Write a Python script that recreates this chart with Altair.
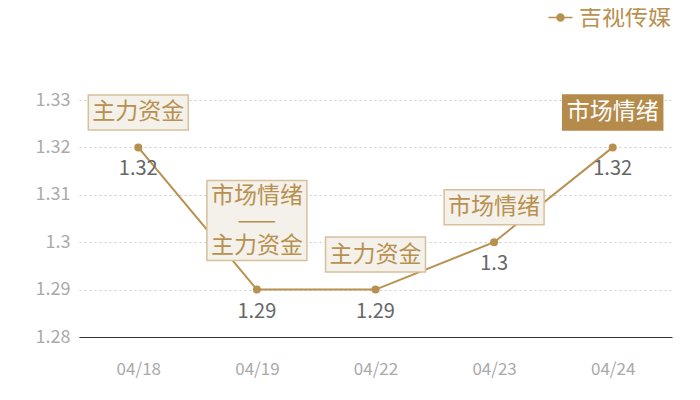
import altair as alt
import pandas as pd

dates = ["04/18", "04/19", "04/22", "04/23", "04/24"]
values = [1.32, 1.29, 1.29, 1.30, 1.32]
value_labels = ["1.32", "1.29", "1.29", "1.3", "1.32"]
notes = [["主力资金"], ["市场情绪", "——", "主力资金"], ["主力资金"], ["市场情绪"], ["市场情绪"]]
highlight = [False, False, False, False, True]
series = "吉视传媒"
y_ticks = [1.28, 1.29, 1.30, 1.31, 1.32, 1.33]

GOLD = "#b8904f"
FONT = "Noto Sans CJK SC"

df = pd.DataFrame({
    "date": dates,
    "value": values,
    "label": value_labels,
    "note": notes,
    "lines": [len(n) for n in notes],
    "hl": highlight,
    "series": [series] * len(dates),
})

x = alt.X("date:N", sort=dates, scale=alt.Scale(type="point", padding=0.5),
          axis=alt.Axis(title=None, labelAngle=0, domain=True, domainColor="#333333", domainWidth=1,
                        ticks=False, grid=False,
                        labelColor="#aaaaaa", labelFont=FONT, labelFontSize=17, labelPadding=24))
y = alt.Y("value:Q", scale=alt.Scale(domain=[1.28, 1.33], nice=False, zero=False),
          axis=alt.Axis(title=None, values=y_ticks, format=".2~f", domain=False, ticks=False,
                        gridDash=[2, 3], gridColor="#cccccc", labelColor="#aaaaaa",
                        labelFont=FONT, labelFontSize=18, labelPadding=9))

base = alt.Chart(df)

line = base.mark_line(color=GOLD, strokeWidth=2).encode(x=x, y=y)

points = base.mark_point(filled=True, size=64, opacity=1).encode(
    x=x, y=y,
    color=alt.Color("series:N", scale=alt.Scale(domain=[series], range=[GOLD]),
                    legend=alt.Legend(title=None, orient="none", legendX=470, legendY=-94,
                                      symbolType="M-1.2,0H-0.35M0.35,0H1.2M-0.35,0A0.35,0.35 0 1,0 0.35,0A0.35,0.35 0 1,0 -0.35,0Z",
                                      symbolSize=400, symbolStrokeWidth=1.5, symbolStrokeColor=GOLD,
                                      labelFont=FONT, labelFontSize=23, labelColor=GOLD,
                                      labelOffset=7)))

labels = base.mark_text(dy=22, font=FONT, fontSize=20, color="#666666").encode(
    x=x, y=y, text="label:N")

single = base.transform_filter("datum.lines == 1")
double = base.transform_filter("datum.lines > 1")

box1 = single.mark_point(shape="M-1,-0.35H1V0.35H-1Z", size=10000, filled=True, opacity=1,
                         strokeWidth=1.5, yOffset=-35).encode(
    x=x, y=y,
    fill=alt.condition("datum.hl", alt.value("#b58b4c"), alt.value("#f4f0ea")),
    stroke=alt.condition("datum.hl", alt.value("#b58b4c"), alt.value("#d8c09a")))
text1 = single.mark_text(yOffset=-35, font=FONT, fontSize=23, baseline="middle").encode(
    x=x, y=y, text="note",
    color=alt.condition("datum.hl", alt.value("#ffffff"), alt.value(GOLD)))

box2 = double.mark_point(shape="M-1,-0.8H1V0.8H-1Z", size=10000, filled=True, opacity=1,
                         strokeWidth=1.5, yOffset=-69, fill="#f4f0ea", stroke="#d8c09a").encode(x=x, y=y)
text2 = double.mark_text(yOffset=-94, font=FONT, fontSize=23, baseline="middle", lineHeight=25,
                         color=GOLD).encode(x=x, y=y, text="note")

chart = alt.layer(line, points, labels, box1, text1, box2, text2).properties(
    width=593, height=237,
    autosize=alt.AutoSizeParams(type="none"),
    padding={"left": 71, "top": 92, "right": 20, "bottom": 50},
).configure_view(stroke=None).configure_axis(gridWidth=1)

chart.save("out.html", embed_options={"renderer": "svg", "actions": False})
